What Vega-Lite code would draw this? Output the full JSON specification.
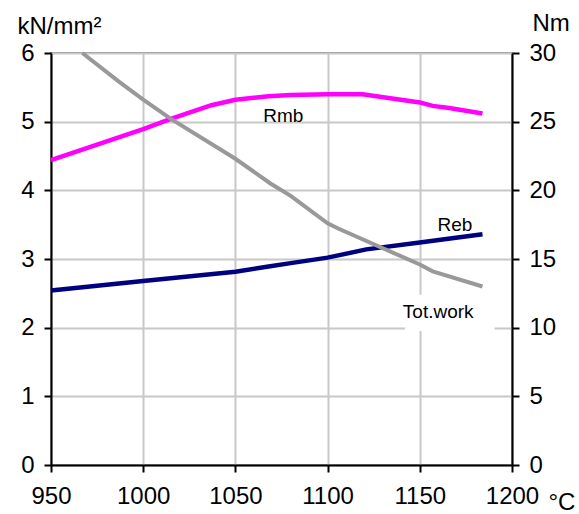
{
  "$schema": "https://vega.github.io/schema/vega-lite/v6.json",
  "width": 461,
  "height": 412,
  "autosize": {"type": "none"},
  "padding": {"left": 51, "top": 53, "right": 67, "bottom": 49},
  "background": "white",
  "config": {
    "font": "Liberation Sans",
    "view": {"stroke": "#888888", "strokeWidth": 2},
    "axis": {
      "labelFont": "Liberation Sans",
      "titleFont": "Liberation Sans",
      "labelFontSize": 24,
      "titleFontSize": 24,
      "titleFontWeight": "normal",
      "labelColor": "black",
      "titleColor": "black",
      "domainColor": "black",
      "domainWidth": 2,
      "tickColor": "black",
      "tickWidth": 2,
      "tickSize": 7,
      "labelPadding": 10,
      "gridColor": "#c8c8c8",
      "gridWidth": 2,
      "labelFlush": false,
      "labelOverlap": false,
      "format": "d"
    }
  },
  "datasets": {
    "left": [
      {"temp": 950, "value": 4.44, "series": "Rmb"},
      {"temp": 1000, "value": 4.89, "series": "Rmb"},
      {"temp": 1015, "value": 5.04, "series": "Rmb"},
      {"temp": 1037, "value": 5.24, "series": "Rmb"},
      {"temp": 1050, "value": 5.32, "series": "Rmb"},
      {"temp": 1068, "value": 5.37, "series": "Rmb"},
      {"temp": 1080, "value": 5.39, "series": "Rmb"},
      {"temp": 1100, "value": 5.4, "series": "Rmb"},
      {"temp": 1119, "value": 5.4, "series": "Rmb"},
      {"temp": 1150, "value": 5.28, "series": "Rmb"},
      {"temp": 1157, "value": 5.23, "series": "Rmb"},
      {"temp": 1166, "value": 5.2, "series": "Rmb"},
      {"temp": 1184, "value": 5.12, "series": "Rmb"},
      {"temp": 950, "value": 2.54, "series": "Reb"},
      {"temp": 1000, "value": 2.68, "series": "Reb"},
      {"temp": 1050, "value": 2.815, "series": "Reb"},
      {"temp": 1068, "value": 2.89, "series": "Reb"},
      {"temp": 1080, "value": 2.94, "series": "Reb"},
      {"temp": 1100, "value": 3.02, "series": "Reb"},
      {"temp": 1121, "value": 3.14, "series": "Reb"},
      {"temp": 1150, "value": 3.24, "series": "Reb"},
      {"temp": 1184, "value": 3.36, "series": "Reb"}
    ],
    "work": [
      {"temp": 967, "value": 30.0},
      {"temp": 987, "value": 27.9},
      {"temp": 1000, "value": 26.6},
      {"temp": 1015, "value": 25.2},
      {"temp": 1050, "value": 22.3},
      {"temp": 1069, "value": 20.5},
      {"temp": 1080, "value": 19.6},
      {"temp": 1100, "value": 17.6},
      {"temp": 1106, "value": 17.2},
      {"temp": 1150, "value": 14.6},
      {"temp": 1157, "value": 14.1},
      {"temp": 1184, "value": 13.0}
    ],
    "labels": [
      {"temp": 1076, "value": 4.995, "text": "Rmb"},
      {"temp": 1169, "value": 3.41, "text": "Reb"},
      {"temp": 1160, "value": 2.14, "text": "Tot.work"}
    ],
    "box": [
      {"x1": 1142, "x2": 1190.5, "y1": 1.95, "y2": 2.48}
    ]
  },
  "layer": [
    {
      "layer": [
        {
          "data": {"name": "box"},
          "mark": {"type": "rect", "fill": "white", "stroke": null},
          "encoding": {
            "x": {"field": "x1", "type": "quantitative", "scale": {"domain": [950, 1200], "nice": false}},
            "x2": {"field": "x2"},
            "y": {"field": "y1", "type": "quantitative", "scale": {"domain": [0, 6], "nice": false}},
            "y2": {"field": "y2"}
          }
        },
        {
          "data": {"name": "left"},
          "mark": {"type": "line", "strokeWidth": 4.5},
          "encoding": {
            "x": {
              "field": "temp", "type": "quantitative",
              "scale": {"domain": [950, 1200], "nice": false},
              "axis": {
                "values": [950, 1000, 1050, 1100, 1150, 1200],
                "format": "d",
                "title": "°C",
                "titleAlign": "left",
                "titleAnchor": null,
                "titleX": 497,
                "titleY": 44,
                "titleBaseline": "alphabetic",
                "labelPadding": 12
              }
            },
            "y": {
              "field": "value", "type": "quantitative",
              "scale": {"domain": [0, 6], "nice": false},
              "axis": {
                "orient": "left",
                "values": [0, 1, 2, 3, 4, 5, 6],
                "format": "d",
                "title": "kN/mm²",
                "titleAngle": 0,
                "titleAlign": "left",
                "titleAnchor": null,
                "titleX": -34,
                "titleY": -20,
                "titleBaseline": "alphabetic"
              }
            },
            "color": {
              "field": "series", "type": "nominal",
              "scale": {"domain": ["Rmb", "Reb"], "range": ["#ff00ff", "#000080"]},
              "legend": null
            }
          }
        },
        {
          "data": {"name": "labels"},
          "mark": {"type": "text", "fontSize": 19, "font": "Liberation Sans", "color": "black", "baseline": "alphabetic", "align": "center"},
          "encoding": {
            "x": {"field": "temp", "type": "quantitative"},
            "y": {"field": "value", "type": "quantitative"},
            "text": {"field": "text"}
          }
        }
      ]
    },
    {
      "data": {"name": "work"},
      "mark": {"type": "line", "strokeWidth": 4, "color": "#999999"},
      "encoding": {
        "x": {"field": "temp", "type": "quantitative"},
        "y": {
          "field": "value", "type": "quantitative",
          "scale": {"domain": [0, 30], "nice": false},
          "axis": {
            "orient": "right",
            "grid": false,
            "values": [0, 5, 10, 15, 20, 25, 30],
            "format": "d",
            "title": "Nm",
            "titleAngle": 0,
            "titleAlign": "left",
            "titleAnchor": null,
            "titleX": 20,
            "titleY": -23,
            "titleBaseline": "alphabetic"
          }
        }
      }
    }
  ],
  "resolve": {"scale": {"y": "independent"}}
}
